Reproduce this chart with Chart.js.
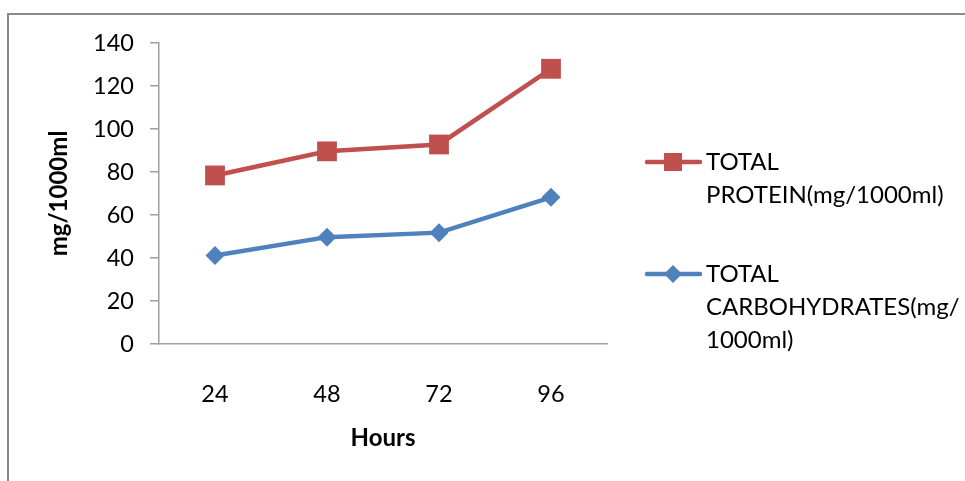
<!DOCTYPE html>
<html>
<head>
<meta charset="utf-8">
<script src="https://cdn.jsdelivr.net/npm/chart.js@4"></script>
<style>
  html, body { margin: 0; padding: 0; background: #fff; }
  canvas { display: block; }
</style>
</head>
<body>
<canvas id="myChart" width="965" height="481"></canvas>
<script>
const hours = ['24', '48', '72', '96'];
const protein = [78.4, 89.6, 92.8, 128];
const carbohydrates = [41.2, 49.7, 51.8, 68.2];
const proteinLabel = ['TOTAL', 'PROTEIN(mg/1000ml)'];
const carbLabel = ['TOTAL', 'CARBOHYDRATES(mg/', '1000ml)'];

const RED = '#C0504D';
const BLUE = '#4F81BD';
const FONT = 'Lato, "Open Sans", sans-serif';

// gray frame around the picture (only top and left edges are visible)
const framePlugin = {
  id: 'frame',
  beforeDraw(chart) {
    const ctx = chart.ctx;
    ctx.save();
    ctx.strokeStyle = '#8a8a8a';
    ctx.lineWidth = 2;
    ctx.beginPath();
    ctx.moveTo(8, 481);
    ctx.lineTo(8, 14);
    ctx.lineTo(965, 14);
    ctx.stroke();
    ctx.restore();
  }
};

// legend on the right, labels wrap over several lines like the original
const sideLegend = {
  id: 'sideLegend',
  afterDraw(chart) {
    const ctx = chart.ctx;
    const rows = [162, 274];
    ctx.save();
    chart.data.datasets.forEach((ds, i) => {
      const y = rows[i];
      ctx.strokeStyle = ds.borderColor;
      ctx.lineWidth = ds.borderWidth;
      ctx.lineCap = 'round';
      ctx.beginPath();
      ctx.moveTo(647, y);
      ctx.lineTo(700, y);
      ctx.stroke();
      ctx.fillStyle = ds.backgroundColor;
      Chart.helpers.drawPoint(ctx, {
        pointStyle: ds.pointStyle,
        radius: ds.pointStyle === 'rect' ? 12.7 : 9,
        borderWidth: 0
      }, 673, y);
      ctx.fillStyle = '#000';
      ctx.font = '24px ' + FONT;
      ctx.textBaseline = 'middle';
      ctx.textAlign = 'left';
      ds.label.forEach((line, j) => {
        ctx.fillText(line, 706, y + j * 33);
      });
    });
    ctx.restore();
  }
};

new Chart(document.getElementById('myChart'), {
  type: 'line',
  data: {
    labels: hours,
    datasets: [
      {
        label: proteinLabel,
        data: protein,
        borderColor: RED,
        backgroundColor: RED,
        borderWidth: 4.5,
        pointStyle: 'rect',
        pointRadius: 14,
        pointHoverRadius: 14,
        pointBorderWidth: 0,
        tension: 0
      },
      {
        label: carbLabel,
        data: carbohydrates,
        borderColor: BLUE,
        backgroundColor: BLUE,
        borderWidth: 4.5,
        pointStyle: 'rectRot',
        pointRadius: 9.5,
        pointHoverRadius: 9.5,
        pointBorderWidth: 0,
        tension: 0
      }
    ]
  },
  options: {
    responsive: false,
    animation: false,
    layout: {
      padding: { left: 0, top: 43, right: 358, bottom: 0 }
    },
    plugins: {
      legend: { display: false },
      tooltip: { enabled: false }
    },
    scales: {
      x: {
        offset: true,
        grid: { display: true, drawOnChartArea: false, drawTicks: false },
        border: { color: '#a0a0a0', width: 1.5 },
        ticks: {
          padding: 36,
          color: '#000',
          font: { family: FONT, size: 23.5 }
        },
        title: {
          display: true,
          text: 'Hours',
          color: '#000',
          font: { family: FONT, size: 24, weight: 'bold' },
          padding: { top: 0, bottom: 28 }
        },
        afterFit(scale) {
          scale.height = 481 - 344;
        }
      },
      y: {
        min: 0,
        max: 140,
        ticks: {
          stepSize: 20,
          padding: 16,
          color: '#000',
          font: { family: FONT, size: 23.5 }
        },
        grid: {
          drawOnChartArea: false,
          drawTicks: true,
          tickLength: 9,
          color: '#a0a0a0',
          lineWidth: 1.5
        },
        border: { color: '#a0a0a0', width: 1.5 },
        title: {
          display: true,
          text: 'mg/1000ml',
          color: '#000',
          font: { family: FONT, size: 24, weight: 'bold' },
          padding: { top: 44.6, bottom: 0 }
        },
        afterFit(scale) {
          scale.width = 159;
        }
      }
    }
  },
  plugins: [framePlugin, sideLegend]
});
</script>
</body>
</html>
